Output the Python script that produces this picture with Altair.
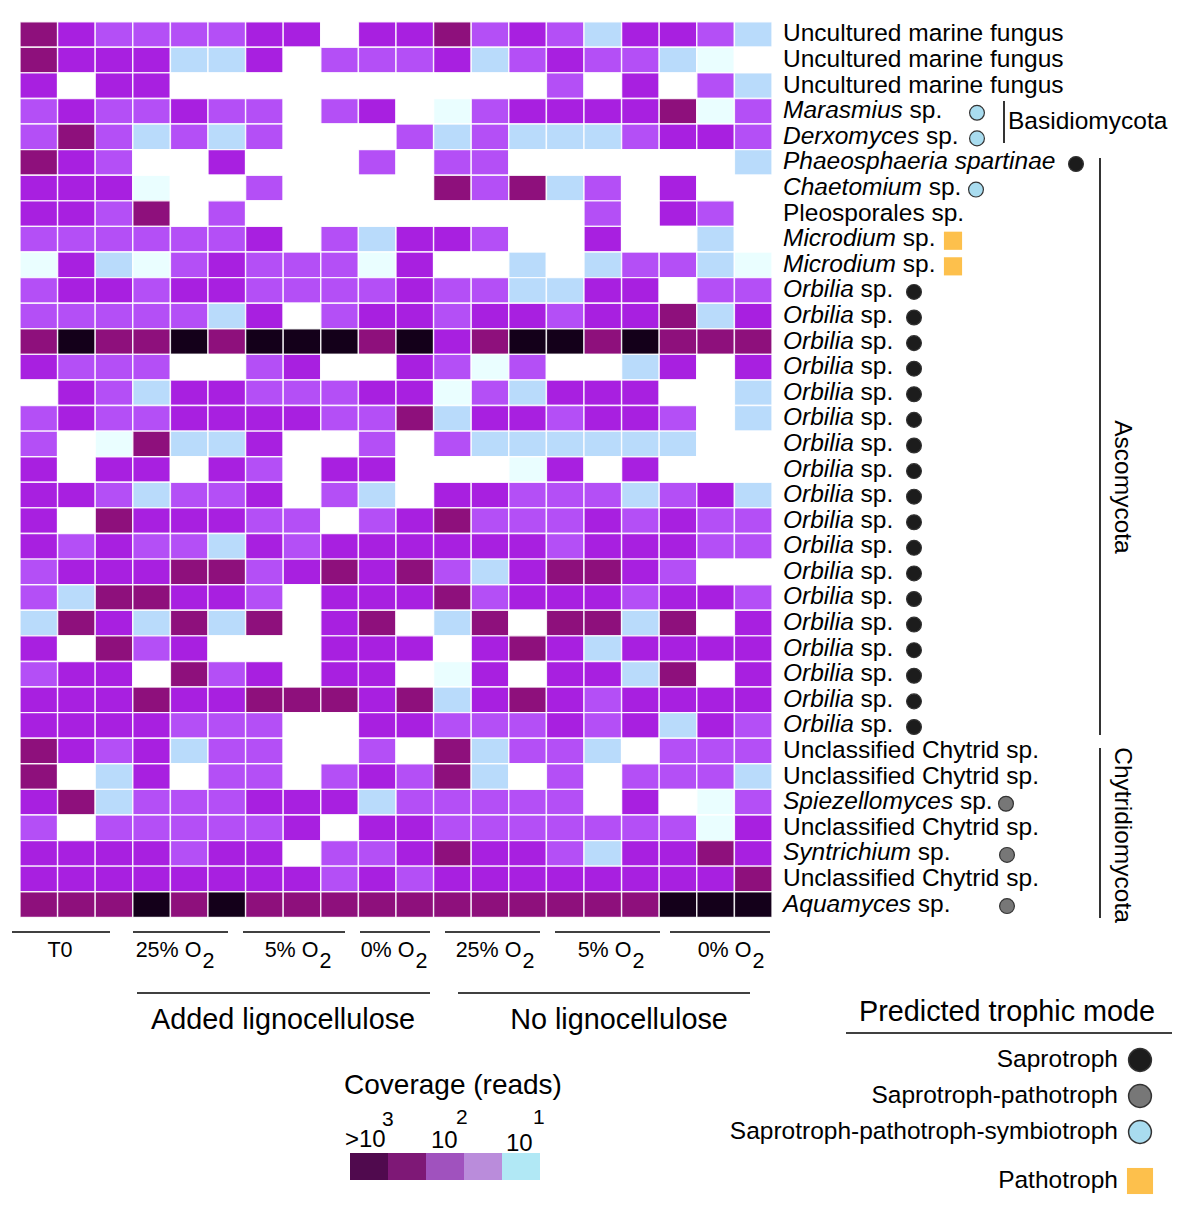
import altair as alt
import pandas as pd

# ---------------- data ----------------
taxa = (["Uncultured marine fungus"] * 3 +
        ["Marasmius sp.", "Derxomyces sp.", "Phaeosphaeria spartinae", "Chaetomium sp.",
         "Pleosporales sp.", "Microdium sp.", "Microdium sp."] +
        ["Orbilia sp."] * 18 +
        ["Unclassified Chytrid sp.", "Unclassified Chytrid sp.", "Spiezellomyces sp.",
         "Unclassified Chytrid sp.", "Syntrichium sp.", "Unclassified Chytrid sp.", "Aquamyces sp."])
italic_part = (["", "", "", "Marasmius", "Derxomyces", "Phaeosphaeria spartinae", "Chaetomium",
                "", "Microdium", "Microdium"] + ["Orbilia"] * 18 +
               ["", "", "Spiezellomyces", "", "Syntrichium", "", "Aquamyces"])
trophic = ([None, None, None, "SPS", "SPS", "S", "SPS", None, "P", "P"] + ["S"] * 18 +
           [None, None, "SP", None, "SP", None, "SP"])
marker_x = ([None, None, None, 977, 977, 1076, 976, None, 953, 953] + [914] * 18 +
            [None, None, 1006, None, 1007, None, 1007])

# coverage level: 0 none, 1 ~1 read, 2 ~10, 3 ~30, 4 ~100, 5 ~1000, 6 >1000
coverage = [
    [5,4,3,3,3,3,4,4,0,4, 4,5,3,4,3,2,4,4,3,2],
    [5,4,4,4,2,2,4,0,3,3, 3,4,2,3,4,3,3,2,1,0],
    [4,0,4,4,0,0,0,0,0,0, 0,0,0,0,3,0,4,0,3,2],
    [3,4,3,3,4,3,3,0,3,4, 0,1,3,4,4,4,4,5,1,3],
    [3,5,3,2,3,2,3,0,0,0, 3,2,3,2,2,2,3,4,4,3],
    [5,4,3,0,0,4,0,0,0,3, 0,3,3,0,0,0,0,0,0,2],
    [4,4,4,1,0,0,3,0,0,0, 0,5,3,5,2,3,0,4,0,0],
    [4,4,3,5,0,3,0,0,0,0, 0,0,0,0,0,3,0,4,3,0],
    [3,3,3,3,3,3,4,0,3,2, 4,4,3,0,0,4,0,0,2,0],
    [1,4,2,1,3,4,3,3,3,1, 4,0,0,2,0,2,3,3,2,1],
    [3,4,4,3,4,4,3,3,3,3, 4,3,3,2,2,4,4,0,3,3],
    [3,3,3,3,3,2,4,0,3,4, 4,3,4,4,3,4,4,5,2,4],
    [5,6,5,5,6,5,6,6,6,5, 6,4,5,6,6,5,6,5,5,5],
    [4,3,3,3,0,0,3,4,0,0, 4,3,1,3,0,0,2,4,0,4],
    [0,4,3,2,4,4,3,3,3,4, 4,1,3,2,4,4,4,0,0,2],
    [3,4,3,3,4,4,4,4,3,3, 5,2,4,4,3,4,4,3,0,2],
    [3,0,1,5,2,2,4,0,0,3, 0,3,2,2,2,2,2,2,0,0],
    [4,0,4,4,0,4,3,0,4,4, 0,0,0,1,4,0,4,0,0,0],
    [4,4,3,2,3,3,4,0,3,2, 0,4,4,3,3,3,2,3,4,2],
    [4,0,5,4,4,4,3,3,0,3, 4,5,3,3,3,4,3,4,3,3],
    [4,3,4,3,3,2,4,3,4,4, 4,4,4,4,3,4,4,4,3,3],
    [3,4,4,4,5,5,3,4,5,4, 5,3,2,4,5,5,4,3,0,0],
    [3,2,5,5,4,4,3,0,4,4, 4,5,3,4,4,4,3,4,4,3],
    [2,5,4,2,5,2,5,0,4,5, 0,2,5,0,5,5,2,5,0,4],
    [4,0,5,3,4,0,0,0,4,4, 4,0,4,5,4,2,4,4,4,4],
    [3,4,4,0,5,3,4,0,4,4, 0,1,4,0,4,4,2,5,0,4],
    [4,4,4,5,4,4,5,5,5,4, 5,2,4,5,4,3,4,4,4,4],
    [4,4,4,4,3,3,3,0,0,4, 4,3,3,3,4,3,4,2,4,3],
    [5,4,3,4,2,3,3,0,0,3, 0,5,2,3,3,2,0,3,3,3],
    [5,0,2,4,0,3,3,0,3,4, 3,5,2,0,3,0,3,3,3,2],
    [4,5,2,3,3,3,4,4,4,2, 3,3,3,3,3,0,4,0,1,3],
    [3,0,3,3,3,3,3,4,0,4, 4,3,3,3,3,3,3,3,1,4],
    [4,4,4,4,3,4,4,0,3,3, 4,5,4,4,3,2,4,4,5,4],
    [4,4,4,4,4,4,4,4,3,4, 3,4,4,4,4,4,4,4,4,5],
    [5,5,5,6,5,6,5,5,5,5, 5,5,5,5,5,5,5,6,6,6],
]
level_colors = ["#ffffff", "#eafeff", "#b9dbfb", "#b44ff6", "#a820e0", "#8e107c", "#14001a"]

cond_labels = ["T0", "25% O", "5% O", "0% O", "25% O", "5% O", "0% O"]
cond_sub = ["", "2", "2", "2", "2", "2", "2"]
treat_labels = ["Added lignocellulose", "No lignocellulose"]
legend_colors = ["#500a4e", "#7e1876", "#a052be", "#ba8cdb", "#b1e8f5"]
troph_names = ["Saprotroph", "Saprotroph-pathotroph", "Saprotroph-pathotroph-symbiotroph", "Pathotroph"]
troph_keys = ["S", "SP", "SPS", "P"]
troph_colors = {"S": "#1c1c1c", "SP": "#777777", "SPS": "#a9dcef", "P": "#fdc04c"}

# ---------------- helpers ----------------
FONT = "Liberation Sans"
AW = dict(zip("abcdefghijklmnopqrstuvwxyz",
              [556,556,500,556,556,278,556,556,222,222,500,222,833,556,556,556,556,333,500,278,556,500,722,500,500,500]))
AW.update(dict(zip("ABCDEFGHIJKLMNOPQRSTUVWXYZ",
                   [667,667,722,722,667,611,778,722,278,500,667,556,833,722,778,667,778,722,667,611,722,667,944,667,667,611])))
AW.update({" ": 278, ".": 278, "%": 889, "-": 333, ">": 584, "(": 333, ")": 333})
for d in "0123456789":
    AW[d] = 556


def tw(s, size):
    return sum(AW.get(ch, 556) for ch in s) * size / 1000.0


def P(v):  # page pixel -> chart pixel
    return v - 8


W, H = 1168, 1198
X0, CW = P(20.0), 37.6
Y0, RH = P(21.7), 25.59
xs = alt.Scale(domain=[-X0 / CW, (W - X0) / CW], nice=False, zero=False)
ys = alt.Scale(domain=[-Y0 / RH, (H - Y0) / RH], nice=False, zero=False, reverse=True)

# ---------------- heatmap ----------------
cells = []
for r, vals in enumerate(coverage):
    for c, v in enumerate(vals):
        cells.append(dict(r0=r, r1=r + 1, c0=c, c1=c + 1, level=v))
heat = alt.Chart(pd.DataFrame(cells)).mark_rect(stroke="white", strokeWidth=1.4, strokeOpacity=0.85).encode(
    x=alt.X("c0:Q", scale=xs, axis=None), x2="c1:Q",
    y=alt.Y("r0:Q", scale=ys, axis=None), y2="r1:Q",
    color=alt.Color("level:O", scale=alt.Scale(domain=list(range(7)), range=level_colors), legend=None),
)

# ---------------- row labels ----------------
FS = 24.5
LX = P(783)
it_rows, nm_rows = [], []
for r, (full, it) in enumerate(zip(taxa, italic_part)):
    if it:
        it_rows.append(dict(text=it, x=LX, y=r + 0.5))
        rest = full[len(it):].strip()
        if rest:
            nm_rows.append(dict(text=rest, x=LX + tw(it, FS) + tw(" ", FS), y=r + 0.5))
    else:
        nm_rows.append(dict(text=full, x=LX, y=r + 0.5))


def rowtext(rows, style):
    return alt.Chart(pd.DataFrame(rows)).mark_text(
        align="left", baseline="middle", font=FONT, fontSize=FS, fontStyle=style, color="black").encode(
        x=alt.X("x:Q", scale=None, axis=None), y=alt.Y("y:Q", scale=ys, axis=None), text="text:N")


lab_it = rowtext(it_rows, "italic")
lab_nm = rowtext(nm_rows, "normal")

# markers
circ, sq = [], []
for r, (t, mx) in enumerate(zip(trophic, marker_x)):
    if t is None:
        continue
    d = dict(x=P(mx), y=r + 0.56, col=troph_colors[t])
    (sq if t == "P" else circ).append(d)
marks_c = alt.Chart(pd.DataFrame(circ)).mark_point(shape="circle", filled=True, size=220, opacity=1,
                                                    stroke="#333333", strokeWidth=1.2).encode(
    x=alt.X("x:Q", scale=None, axis=None), y=alt.Y("y:Q", scale=ys, axis=None),
    fill=alt.Fill("col:N", scale=None))
marks_s = alt.Chart(pd.DataFrame(sq)).mark_point(shape="square", filled=True, size=330, opacity=1).encode(
    x=alt.X("x:Q", scale=None, axis=None), y=alt.Y("y:Q", scale=ys, axis=None),
    fill=alt.Fill("col:N", scale=None))

# ---------------- rules ----------------
rules = [
    (1004, 1004, 101, 143),          # Basidiomycota
    (1100, 1100, 158, 735),          # Ascomycota
    (1100, 1100, 748, 918),          # Chytridiomycota
]
cond_lines = [(12, 110), (133, 228), (243, 345), (360, 430), (445, 540), (555, 660), (670, 770)]
cond_centers = [60, 175, 298, 394, 495, 611, 731]
for a, b in cond_lines:
    rules.append((a, b, 932, 932))
treat_lines = [(137, 430), (458, 750)]
treat_centers = [283, 619]
for a, b in treat_lines:
    rules.append((a, b, 993, 993))
rules.append((846, 1172, 1033, 1033))  # trophic legend title underline
rule_df = pd.DataFrame([dict(x=P(a), x2=P(b), y=P(c), y2=P(d)) for a, b, c, d in rules])
rule_layer = alt.Chart(rule_df).mark_rule(color="black", strokeWidth=1.6).encode(
    x=alt.X("x:Q", scale=None, axis=None), x2="x2:Q",
    y=alt.Y("y:Q", scale=None, axis=None), y2="y2:Q")


def text_layer(items, align="center", baseline="middle", style="normal"):
    d = pd.DataFrame(items, columns=["text", "x", "y", "size", "angle"])
    d["x"] = d["x"].map(P)
    d["y"] = d["y"].map(P)
    return alt.Chart(d).mark_text(align=align, baseline=baseline, font=FONT, fontStyle=style, color="black").encode(
        x=alt.X("x:Q", scale=None, axis=None), y=alt.Y("y:Q", scale=None, axis=None), text="text:N",
        size=alt.Size("size:Q", scale=None, legend=None), angle=alt.Angle("angle:Q", scale=None))


# phylum labels
phy_left = text_layer([("Basidiomycota", 1008, 122, FS, 0)], align="left")
phy_rot = text_layer([("Ascomycota", 1122, 487, FS, 90), ("Chytridiomycota", 1122, 835, FS, 90)])

# condition labels with subscripts
CS = 21.5
cond_main, cond_subs = [], []
for lab, sub, cx in zip(cond_labels, cond_sub, cond_centers):
    total = tw(lab, CS) + (tw(sub, CS) + 1 if sub else 0)
    start = cx - total / 2
    cond_main.append((lab, start, 951, CS, 0))
    if sub:
        cond_subs.append((sub, start + tw(lab, CS) + 1, 962, CS, 0))
cond_layer = text_layer(cond_main + cond_subs, align="left")

treat_layer = text_layer([(t, cx, 1020, 28.8, 0) for t, cx in zip(treat_labels, treat_centers)])

# coverage legend
cov_title = text_layer([("Coverage (reads)", 453, 1086, 28, 0)])
cov_labels = text_layer([(">10", 345, 1140, 24, 0), ("10", 431, 1141, 24, 0), ("10", 506, 1144, 24, 0),
                         ("3", 382, 1120, 21, 0), ("2", 456, 1118, 21, 0), ("1", 533, 1118, 21, 0)], align="left")
boxes = pd.DataFrame([dict(x=P(350 + 38 * i), x2=P(350 + 38 * (i + 1)), y=P(1153), y2=P(1180), col=c)
                      for i, c in enumerate(legend_colors)])
cov_boxes = alt.Chart(boxes).mark_rect().encode(
    x=alt.X("x:Q", scale=None, axis=None), x2="x2:Q",
    y=alt.Y("y:Q", scale=None, axis=None), y2="y2:Q",
    color=alt.Color("col:N", scale=None))

# trophic legend
tro_title = text_layer([("Predicted trophic mode", 1007, 1012, 28.8, 0)])
tro_y = [1060, 1096, 1132, 1181]
tro_text = text_layer([(n, 1118, y, FS, 0) for n, y in zip(troph_names, tro_y)], align="right")
tro_c = pd.DataFrame([dict(x=P(1140), y=P(y), col=troph_colors[k]) for k, y in zip(troph_keys[:3], tro_y[:3])])
tro_circles = alt.Chart(tro_c).mark_point(shape="circle", filled=True, size=520, opacity=1,
                                          stroke="#333333", strokeWidth=1.5).encode(
    x=alt.X("x:Q", scale=None, axis=None), y=alt.Y("y:Q", scale=None, axis=None),
    fill=alt.Fill("col:N", scale=None))
tro_s = pd.DataFrame([dict(x=P(1140), y=P(tro_y[3]), col=troph_colors["P"])])
tro_square = alt.Chart(tro_s).mark_point(shape="square", filled=True, size=680, opacity=1).encode(
    x=alt.X("x:Q", scale=None, axis=None), y=alt.Y("y:Q", scale=None, axis=None),
    fill=alt.Fill("col:N", scale=None))

chart = alt.layer(
    heat, lab_it, lab_nm, marks_c, marks_s, rule_layer, phy_left, phy_rot, cond_layer, treat_layer,
    cov_title, cov_labels, cov_boxes, tro_title, tro_text, tro_circles, tro_square,
).properties(width=W, height=H, padding=0, autosize="none").configure_view(stroke=None)

chart.save("out.html", embed_options={"renderer": "svg", "actions": False})
